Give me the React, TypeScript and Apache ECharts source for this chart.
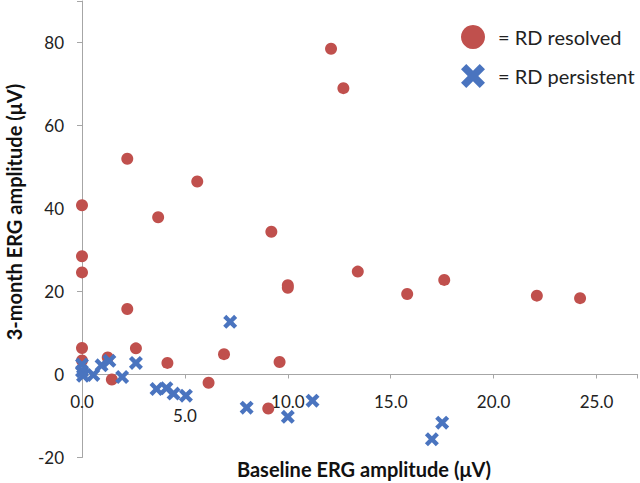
import React, { useEffect, useRef } from "react";
import * as echarts from "echarts";

// RD resolved: [baseline ERG amplitude, 3-month ERG amplitude]
const resolved: [number, number][] = [
  [0, 40.8], [0, 28.5], [0, 24.6], [0, 6.4], [0, 3.4],
  [1.25, 4.1], [1.45, -1.2], [2.2, 52.0], [2.2, 15.8], [2.62, 6.3],
  [3.7, 37.9], [4.15, 2.8], [5.6, 46.5], [6.15, -2.0], [6.9, 4.9],
  [9.05, -8.2], [9.2, 34.4], [9.6, 3.0], [10.0, 21.5], [10.0, 20.9],
  [12.1, 78.5], [12.7, 69.0], [13.4, 24.8], [15.8, 19.4], [17.6, 22.8],
  [22.1, 19.0], [24.2, 18.4],
];

// RD persistent
const persistent: [number, number][] = [
  [0, 2.4], [0, 0.8], [0.05, -0.3], [0.55, -0.1], [0.95, 2.2],
  [1.33, 3.3], [1.95, -0.6], [2.62, 2.8], [3.62, -3.5], [4.1, -3.3],
  [4.45, -4.6], [5.05, -5.1], [7.2, 12.7], [8.0, -8.0], [10.0, -10.2],
  [11.2, -6.3], [17.0, -15.6], [17.5, -11.6],
];

const seriesNames = ["= RD resolved", "= RD persistent"];
const xLabelValues = [0, 5, 10, 15, 20, 25];
const yLabelValues = [-20, 0, 20, 40, 60, 80];
const xTitle = "Baseline ERG amplitude (\u03bcV)";
const yTitle = "3-month ERG amplitude (\u03bcV)";

const RED = "#C0504D";
const BLUE = "#4A74BF";
const FONT = "Lato, 'Open Sans', sans-serif";
const CROSS =
  "path://M0,2.2L2.2,0L5,2.8L7.8,0L10,2.2L7.2,5L10,7.8L7.8,10L5,7.2L2.2,10L0,7.8L2.8,5Z";

const Y_MIN = -20;
const Y_MAX = 90;
const GRID_TOP = 1;
const GRID_H = 456.5;
// distance (px) from the grid bottom up to the y = 0 line
const ZERO_OFFSET = (GRID_H * (0 - Y_MIN)) / (Y_MAX - Y_MIN);

export default function App() {
  const ref = useRef<HTMLDivElement>(null);

  useEffect(() => {
    if (!ref.current) return;
    const chart = echarts.init(ref.current, null, { renderer: "svg" });
    chart.setOption({
      animation: false,
      backgroundColor: "#ffffff",
      grid: {
        left: 82,
        top: GRID_TOP,
        width: 555.7,
        height: GRID_H,
        containLabel: false,
        outerBoundsMode: "none",
      },
      legend: {
        orient: "vertical",
        left: 456,
        top: 20,
        itemWidth: 24,
        itemHeight: 24,
        itemGap: 15,
        selectedMode: false,
        textStyle: {
          fontFamily: FONT,
          fontSize: 20,
          color: "#222",
          padding: [0, 0, 0, 8],
        },
        data: [
          { name: seriesNames[0], icon: "circle" },
          { name: seriesNames[1], icon: CROSS },
        ],
      },
      xAxis: {
        type: "value",
        position: "bottom",
        min: 0,
        max: 27,
        interval: 5,
        offset: -ZERO_OFFSET,
        splitLine: { show: false },
        axisLine: { onZero: false, lineStyle: { color: "#A6A6A6", width: 1 } },
        axisTick: { show: true, length: 4, lineStyle: { color: "#A6A6A6" } },
        axisLabel: {
          margin: 18,
          fontFamily: FONT,
          fontSize: 17,
          color: "#222",
          showMaxLabel: true,
          formatter: (v: number) => {
            if (!xLabelValues.includes(v)) return "";
            if (v === 5) return "{low|" + v.toFixed(1) + "}";
            return v.toFixed(1);
          },
          rich: {
            low: {
              fontFamily: FONT,
              fontSize: 17,
              color: "#222",
              padding: [14, 0, 0, 0],
            },
          },
        },
      },
      yAxis: {
        type: "value",
        min: Y_MIN,
        max: Y_MAX,
        interval: 20,
        splitLine: { show: false },
        axisLine: { show: true, onZero: false, lineStyle: { color: "#A6A6A6", width: 1 } },
        axisTick: { show: true, length: 5, lineStyle: { color: "#A6A6A6" } },
        axisLabel: {
          margin: 18,
          fontFamily: FONT,
          fontSize: 17,
          color: "#222",
          formatter: (v: number) => (yLabelValues.includes(v) ? String(v) : ""),
        },
      },
      graphic: [
        {
          type: "text",
          x: 364,
          y: 469,
          style: {
            text: xTitle,
            font: "bold 20px " + FONT,
            fill: "#111",
            textAlign: "center",
            textVerticalAlign: "middle",
          },
        },
        {
          type: "text",
          x: 14,
          y: 212,
          rotation: Math.PI / 2,
          style: {
            text: yTitle,
            font: "bold 20px " + FONT,
            fill: "#111",
            textAlign: "center",
            textVerticalAlign: "middle",
          },
        },
      ],
      series: [
        {
          name: seriesNames[0],
          type: "scatter",
          symbol: "circle",
          symbolSize: 12,
          itemStyle: { color: RED, opacity: 1 },
          data: resolved,
          z: 2,
        },
        {
          name: seriesNames[1],
          type: "scatter",
          symbol: CROSS,
          symbolSize: 14,
          itemStyle: { color: BLUE, opacity: 1 },
          data: persistent,
          z: 3,
        },
      ],
    });
    return () => chart.dispose();
  }, []);

  return (
    <div
      ref={ref}
      style={{ position: "fixed", left: 0, top: 0, width: 640, height: 483 }}
    />
  );
}
